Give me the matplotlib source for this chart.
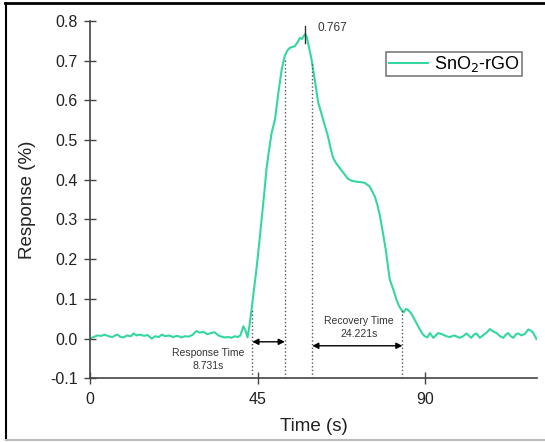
import numpy as np
import matplotlib
matplotlib.use('Agg')
import matplotlib.pyplot as plt
from matplotlib.lines import Line2D

plt.rcParams['font.family'] = ['Liberation Sans', 'DejaVu Sans']

# data
time_s = [0, 1, 2, 3, 4, 5, 6, 7, 7.5, 8, 9, 10, 11, 11.7, 12.5, 13.5, 14.5, 15.5,
          16.6, 17.5, 18.5, 19.3, 20.3, 21.3, 22.3, 23.5, 24.6, 25.5, 26.5, 27.5,
          28.6, 29.5, 30.5, 31.5, 32.5, 33.5, 34.5, 35.3, 36.2, 37.2, 38.0, 38.9,
          39.7, 40.4, 41.2, 41.8, 42.3, 42.8, 43.4, 44.0, 44.7, 45.4, 46.1, 46.8,
          47.4, 48.1, 48.8, 49.7, 50.6, 51.5, 52.3, 53.0, 53.7, 54.3, 55.0, 55.7,
          56.4, 56.9, 57.3, 57.8, 58.3, 58.9, 59.5, 60.4, 61.3, 62.0, 62.9, 63.9,
          64.6, 65.3, 66.0, 66.7, 68.0, 69.3, 70.4, 71.5, 72.7, 73.8, 75.1, 76.5,
          77.2, 77.9, 78.6, 79.4, 80.5, 81.6, 82.3, 83.0, 83.7, 84.2, 84.9, 85.6,
          86.3, 87.3, 88.3, 89.3, 89.9, 90.6, 91.3, 92.2, 93.5, 94.8, 95.7, 96.6,
          97.9, 99.3, 100.2, 101.1, 102.4, 103.1, 103.8, 104.7, 105.8, 106.6,
          107.4, 108.3, 109.2, 110.1, 111.0, 111.7, 112.3, 113.0, 113.7, 114.4,
          115.0, 115.9, 116.8, 117.7, 118.4, 119.0, 119.9]
response = [0.000, 0.004, 0.008, 0.007, 0.010, 0.006, 0.004, 0.009, 0.010, 0.005,
            0.003, 0.008, 0.006, 0.013, 0.008, 0.010, 0.007, 0.009, 0.000, 0.006,
            0.004, 0.010, 0.006, 0.008, 0.004, 0.007, 0.003, 0.006, 0.005, 0.009,
            0.019, 0.015, 0.017, 0.011, 0.014, 0.016, 0.008, 0.005, 0.003, 0.004,
            0.002, 0.006, 0.004, 0.008, 0.031, 0.020, 0.003, 0.030, 0.073, 0.120,
            0.174, 0.235, 0.300, 0.365, 0.426, 0.475, 0.518, 0.552, 0.619, 0.678,
            0.711, 0.725, 0.732, 0.734, 0.736, 0.745, 0.757, 0.754, 0.760, 0.767,
            0.757, 0.730, 0.703, 0.650, 0.594, 0.572, 0.542, 0.510, 0.480, 0.455,
            0.443, 0.434, 0.418, 0.402, 0.397, 0.395, 0.394, 0.392, 0.383, 0.358,
            0.336, 0.308, 0.270, 0.226, 0.149, 0.120, 0.098, 0.082, 0.072, 0.066,
            0.075, 0.071, 0.063, 0.046, 0.028, 0.012, 0.006, 0.003, 0.014, 0.002,
            0.014, 0.010, 0.006, 0.004, 0.008, 0.002, 0.006, 0.013, 0.002, 0.010,
            0.013, 0.002, 0.010, 0.016, 0.024, 0.018, 0.014, 0.006, 0.002, 0.010,
            0.014, 0.006, 0.002, 0.011, 0.013, 0.008, 0.012, 0.023, 0.020, 0.015,
            -0.001]

peak_t, peak_val = 57.8, 0.767
resp_start, resp_end = 43.6, 52.33      # 8.731 s
rec_start, rec_end = 59.7, 83.92        # 24.221 s
x_ticks = [0, 45, 90]
y_ticks = [-0.1, 0.0, 0.1, 0.2, 0.3, 0.4, 0.5, 0.6, 0.7, 0.8]

fig = plt.figure(figsize=(5.45, 4.42), dpi=100)
ax = fig.add_axes([0.165, 0.144, 0.82, 0.809])

ax.plot(time_s, response, color='#35d7a0', lw=1.5, label='SnO$_2$-rGO')

# dashed guides
guide_col = '#555555'
ax.plot([resp_start, resp_start], [-0.1, 0.073], ls=':', color=guide_col, lw=1)
ax.plot([resp_end, resp_end], [-0.1, 0.705], ls=':', color=guide_col, lw=1)
ax.plot([rec_start, rec_start], [-0.1, 0.695], ls=':', color=guide_col, lw=1)
ax.plot([rec_end, rec_end], [-0.1, 0.073], ls=':', color=guide_col, lw=1)

arrow = dict(arrowstyle='<|-|>', color='black', lw=1, mutation_scale=9,
             shrinkA=0, shrinkB=0)
ax.annotate('', xy=(resp_start, -0.008), xytext=(resp_end, -0.008), arrowprops=arrow)
ax.annotate('', xy=(rec_start, -0.018), xytext=(rec_end, -0.018), arrowprops=arrow)

ax.text(31.8, -0.053, 'Response Time\n8.731s', ha='center', va='center',
        fontsize=7.5, color='#333333', linespacing=1.3)
ax.text(72.3, 0.028, 'Recovery Time\n24.221s', ha='center', va='center',
        fontsize=7.5, color='#333333', linespacing=1.3)

# peak marker
ax.plot([peak_t, peak_t], [0.745, 0.788], color='#333333', lw=1)
ax.text(61.0, 0.783, '%.3f' % peak_val, fontsize=8.5, color='#333333',
        ha='left', va='center')

ax.set_xlim(0, 120)
ax.set_ylim(-0.1, 0.8)
ax.set_xticks(x_ticks)
ax.set_yticks(y_ticks)
ax.set_yticklabels(['%.1f' % v for v in y_ticks])
for s in ['top', 'right']:
    ax.spines[s].set_visible(False)
for s in ['left', 'bottom']:
    ax.spines[s].set_color('#444444')
    ax.spines[s].set_linewidth(1.2)
ax.tick_params(axis='both', direction='inout', length=8, width=1,
               color='#444444', labelsize=11.5, labelcolor='#222222')
ax.tick_params(axis='y', pad=5)
ax.tick_params(axis='x', pad=6)

ax.set_xlabel('Time (s)', fontsize=13.5, color='#222222', labelpad=8)
ax.set_ylabel('Response (%)', fontsize=13.5, color='#222222', labelpad=10)

leg = ax.legend(loc='upper right', bbox_to_anchor=(0.966, 0.913), fontsize=13,
                fancybox=False, handlelength=2.2, borderpad=0.12,
                handletextpad=0.3, borderaxespad=0)
leg.get_frame().set_edgecolor('#666666')
leg.get_frame().set_linewidth(1.3)

# picture frame
fig.add_artist(Line2D([5 / 545, 1], [1 - 3 / 442, 1 - 3 / 442], color='black', lw=2))
fig.add_artist(Line2D([6 / 545, 6 / 545], [2 / 442, 1 - 3 / 442], color='black', lw=1.5))
fig.add_artist(Line2D([6 / 545, 1], [2 / 442, 2 / 442], color='#bbbbbb', lw=1.5))

fig.savefig('out.png', dpi=100)
